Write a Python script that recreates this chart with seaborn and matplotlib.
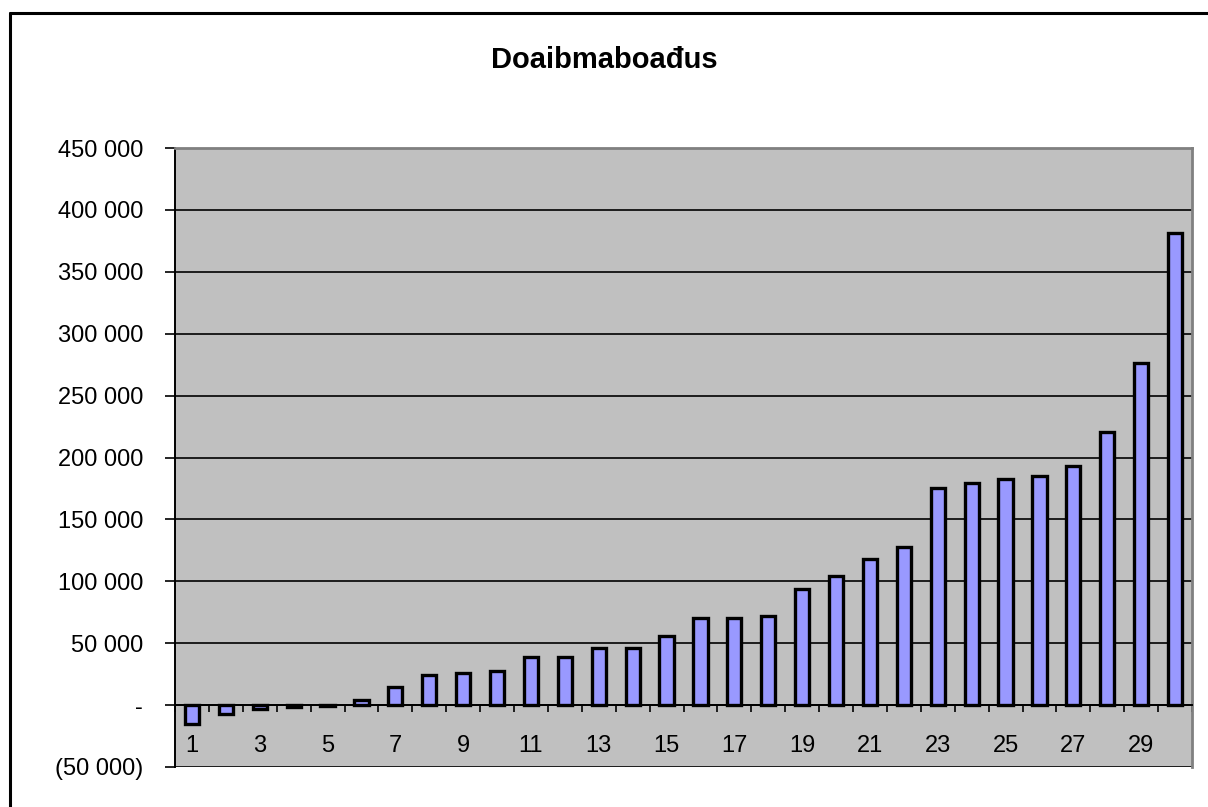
import numpy as np
import pandas as pd
import matplotlib
matplotlib.use("Agg")
import matplotlib.pyplot as plt
import matplotlib.transforms as mtransforms
from matplotlib.ticker import FuncFormatter
import seaborn as sns

# -------------------
# data
# -------------------
title = "Doaibmaboađus"
years = list(range(1, 31))
values = [-15000, -7000, -3000, -1500, -1000, 4000, 15000, 24000, 26000, 27500,
          39000, 39000, 46000, 46000, 56000, 70000, 70000, 72000, 94000, 104000,
          118000, 128000, 175000, 179000, 183000, 185000, 193000, 221000, 276000, 381000]
y_ticks = list(range(-50000, 450001, 50000))
x_labels_shown = [str(y) for y in years if y % 2 == 1]

df = pd.DataFrame({"year": [str(y) for y in years], "value": values})

# -------------------
# plot
# -------------------
sns.set_theme(style="white")
plt.rcParams['font.family'] = ['Liberation Sans', 'DejaVu Sans']
plt.rcParams['text.color'] = 'black'
plt.rcParams['xtick.color'] = 'black'
plt.rcParams['ytick.color'] = 'black'

fig = plt.figure(figsize=(12.08, 8.07), dpi=100)
ax = fig.add_axes([175 / 1208, 1 - 767 / 807, (1192 - 175) / 1208, (767 - 148) / 807])
ax.set_facecolor("#C0C0C0")

sns.barplot(data=df, x="year", y="value", color="#9999FF", width=0.42,
            edgecolor="black", linewidth=2.4, saturation=1, ax=ax, zorder=3)

ax.set_ylim(-50000, 450000)
ax.set_xlim(-0.5, len(years) - 0.5)
ax.set_yticks(y_ticks)


def fmt(v, pos):
    if v == 0:
        return "-"
    s = f"{abs(int(v)):,}".replace(",", " ")
    return f"({s})" if v < 0 else s


ax.yaxis.set_major_formatter(FuncFormatter(fmt))
ax.tick_params(axis="y", labelsize=17, direction="out", length=7, width=1.2,
               color="black", labelcolor="black", left=True, pad=16)
ax.yaxis.grid(True, color="black", linewidth=1.2, zorder=1)
ax.set_axisbelow(True)

# category axis crosses at zero, labels sit low
ax.spines["bottom"].set_position(("data", 0))
ax.spines["bottom"].set_color("black")
ax.spines["bottom"].set_linewidth(1.4)
ax.spines["bottom"].set_zorder(4)
ax.set_xticks(np.arange(-0.5, len(years), 1.0))
ax.set_xticklabels([])
ax.tick_params(axis="x", direction="out", length=5, width=1.2, color="black", bottom=True)
trans = mtransforms.blended_transform_factory(ax.transData, ax.transAxes)
for i, y in enumerate(years):
    if str(y) in x_labels_shown:
        ax.text(i, 0.034, str(y), transform=trans, ha="center", va="center",
                fontsize=17, color="black")

ax.spines["left"].set_color("black")
ax.spines["left"].set_linewidth(1.4)
for side in ["top", "right"]:
    ax.spines[side].set_color("#808080")
    ax.spines[side].set_linewidth(2)

ax.set_xlabel("")
ax.set_ylabel("")

fig.text(0.5, 1 - 60 / 807, title, ha="center", va="center", fontsize=21,
         fontweight="bold", color="black")

# outer chart border
fig.add_artist(plt.Line2D([10 / 1208, 10 / 1208], [0, 1 - 13 / 807], color="black", linewidth=2.2,
                          transform=fig.transFigure))
fig.add_artist(plt.Line2D([10 / 1208, 1], [1 - 13 / 807, 1 - 13 / 807], color="black", linewidth=2.2,
                          transform=fig.transFigure))

plt.savefig("out.png", dpi=100)
plt.close("all")
